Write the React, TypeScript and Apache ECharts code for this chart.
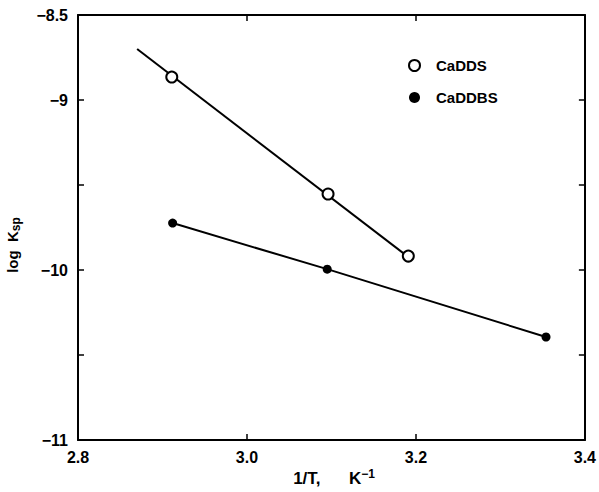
import React, { useEffect, useRef } from "react";
import * as echarts from "echarts";

const caddsX = [2.911, 3.096, 3.191];
const caddsY = [-8.865, -9.553, -9.918];
const caddsFitX = [2.87, 3.19];
const caddsFitY = [-8.70, -9.92];
const caddbsX = [2.912, 3.095, 3.354];
const caddbsY = [-9.724, -9.995, -10.394];
const yTickLabels = [-8.5, -9, -10, -11];

const FONT = "Liberation Sans";

export default function App() {
  const ref = useRef<HTMLDivElement>(null);
  useEffect(() => {
    if (!ref.current) return;
    const chart = echarts.init(ref.current, null, { renderer: "svg" });
    const axisLine = { show: true, lineStyle: { color: "#000", width: 2 } };
    const tick = { show: true, inside: true, length: 6, lineStyle: { color: "#000", width: 1.5 } };
    const zip = (xs: number[], ys: number[]) => xs.map((x, i) => [x, ys[i]]);
    chart.setOption({
      animation: false,
      backgroundColor: "#fff",
      grid: { left: 78, right: 13, top: 15, bottom: 52 },
      xAxis: [
        {
          type: "value", min: 2.8, max: 3.4, interval: 0.2, position: "bottom",
          axisLine, axisTick: tick, splitLine: { show: false },
          axisLabel: {
            color: "#000", fontFamily: FONT, fontWeight: "bold", fontSize: 16, margin: 9,
            formatter: (v: number) => v.toFixed(1),
          },
        },
        {
          type: "value", min: 2.8, max: 3.4, interval: 0.2, position: "top",
          axisLine, axisTick: tick, splitLine: { show: false }, axisLabel: { show: false },
        },
      ],
      yAxis: [
        {
          type: "value", min: -11, max: -8.5, interval: 0.5, position: "left",
          axisLine, axisTick: tick, splitLine: { show: false },
          axisLabel: {
            color: "#000", fontFamily: FONT, fontWeight: "bold", fontSize: 16, margin: 10,
            formatter: (v: number) => {
              const hit = yTickLabels.find((t) => Math.abs(t - v) < 1e-6);
              return hit === undefined ? "" : String(hit).replace("-", "\u2212");
            },
          },
        },
        {
          type: "value", min: -11, max: -8.5, interval: 0.5, position: "right",
          axisLine, axisTick: tick, splitLine: { show: false }, axisLabel: { show: false },
        },
      ],
      legend: {
        orient: "vertical", left: 403, top: 53, itemGap: 17, itemWidth: 11, itemHeight: 11,
        textStyle: { color: "#000", fontFamily: FONT, fontWeight: "bold", fontSize: 15, padding: [0, 0, 0, 11] },
        data: [
          { name: "CaDDS", icon: "circle", itemStyle: { color: "#fff", borderColor: "#000", borderWidth: 2, opacity: 1 } },
          { name: "CaDDBS", icon: "circle", itemStyle: { color: "#000", opacity: 1 } },
        ],
      },
      series: [
        {
          name: "CaDDS fit", type: "line", data: zip(caddsFitX, caddsFitY), showSymbol: false,
          lineStyle: { color: "#000", width: 2 }, silent: true, z: 2,
        },
        {
          name: "CaDDS", type: "scatter", data: zip(caddsX, caddsY), symbol: "circle", symbolSize: 11,
          itemStyle: { color: "#fff", borderColor: "#000", borderWidth: 2, opacity: 1 }, z: 3,
        },
        {
          name: "CaDDBS", type: "line", data: zip(caddbsX, caddbsY), symbol: "circle", symbolSize: 9,
          showAllSymbol: true,
          lineStyle: { color: "#000", width: 2 }, itemStyle: { color: "#000", opacity: 1 }, z: 3,
        },
      ],
      graphic: [
        {
          type: "text", x: 12, y: 245, rotation: Math.PI / 2,
          style: {
            text: "log  K{sub|sp}", fill: "#000", font: `bold 15px ${FONT}`,
            align: "center", verticalAlign: "middle",
            rich: { sub: { fontSize: 12, fontWeight: "bold", fontFamily: FONT, padding: [7, 0, 0, 0] } },
          },
        },
        {
          type: "text", x: 334, y: 478,
          style: {
            text: "1/T,      K{sup|\u22121}", fill: "#000", font: `bold 17px ${FONT}`,
            align: "center", verticalAlign: "middle",
            rich: { sup: { fontSize: 12, fontWeight: "bold", fontFamily: FONT, padding: [0, 0, 9, 0] } },
          },
        },
      ],
    });
    return () => chart.dispose();
  }, []);
  return <div ref={ref} style={{ width: 599, height: 492, position: "absolute", left: 0, top: 0 }} />;
}
